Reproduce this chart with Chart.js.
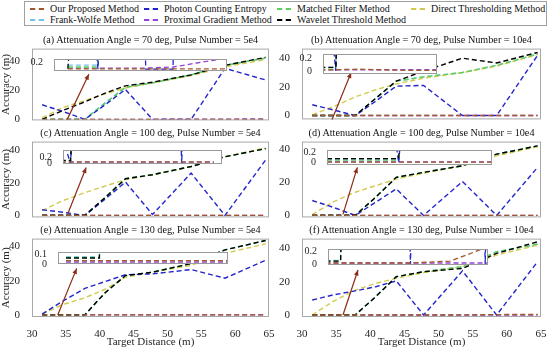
<!DOCTYPE html>
<html>
<head>
<meta charset="utf-8">
<script src="https://cdn.jsdelivr.net/npm/chart.js@4.4.0/dist/chart.umd.min.js"></script>
<style>
body{margin:0;background:#fff;}
#fig{position:relative;width:550px;height:349px;overflow:hidden;background:#fff;font-family:"Liberation Serif",serif;}
#fig canvas{position:absolute;}
.legend{position:absolute;left:24px;top:1px;width:523px;height:25px;border:1px solid #a0a0a0;box-sizing:border-box;background:#fff;}
.item{position:absolute;font-size:10px;line-height:12px;white-space:nowrap;color:#111;}
.item i{position:absolute;left:-20px;top:5px;width:14px;border-top:2px dashed;}
.ttl{position:absolute;font-size:10.2px;line-height:12px;white-space:nowrap;color:#111;transform:translateX(-50%);}
</style>
</head>
<body>
<div id="fig"></div>
<script>
// target distances (m) where each method was measured
const distance = [31.5, 34.5, 37.8, 40.8, 43.8, 47.8, 53.5, 58.5, 64.5];
const xTicks = [30, 35, 40, 45, 50, 55, 60, 65];
const yTicks = [0, 20, 40];

// (a) 70 deg, 5e4
const oursA = [0.01, 0.01, 0.01, 0.01, 0.01, 0.01, 0.01, 0.01, 0.01];
const pceA  = [10, 5.5, 0, 10, 20.5, 0, 0, 35, 27];
const mfA   = [0.06, 0.06, 0.06, 11, 22, 25, 30.5, 37, 42];
const dtA   = [1, 8, 13, 17.5, 21.5, 25, 30, 36, 41];
const fwA   = [0.11, 0.11, 0.11, 11.5, 22, 25, 30.5, 37, 42];
const pgA   = [0.03, 0.03, 0.03, 0.03, 0.03, 0.03, 0.06, 0.17, 0.3];
const wtA   = [0.01, 6, 12, 18, 23, 25.5, 30.5, 37, 42.5];
// (b) 70 deg, 10e4
const oursB = [0.01, 0.01, 0.02, 0.03, 0.02, 0.01, 0.01, 0.01, 0.01];
const pceB  = [7.5, 4, 0, 10, 20.5, 21, 0, 0, 42];
const mfB   = [0.03, 0.03, 0.03, 12, 24, 27, 30, 35, 43];
const dtB   = [0.5, 6, 13, 18, 22, 26, 30, 34.5, 42.5];
const fwB   = [0.06, 0.06, 0.06, 12, 24, 27, 30, 35, 43];
const pgB   = [0.02, 0.02, 0.02, 0.02, 0.02, 0.02, 0.02, 0.02, 0.02];
const wtB   = [0.06, 0.06, 0.06, 12, 24, 31, 40, 36.7, 44];
// (c) 100 deg, 5e4
const oursC = [0.05, 0.05, 0.05, 0.05, 0.05, 0.05, 0.05, 0.05, 0.05];
const pceC  = [3.5, 2, 0, 10, 20.5, 0.6, 26, 0, 34];
const mfC   = [0.05, 0.05, 0.05, 11, 22.5, 25, 30, 36, 41];
const dtC   = [3, 9, 14, 18, 22, 25, 30, 36, 41.5];
const fwC   = [0.08, 0.08, 0.08, 11, 22.5, 25, 30, 36, 41];
const pgC   = [0.04, 0.04, 0.04, 0.04, 0.04, 0.04, 0.04, 0.04, 0.04];
const wtC   = [0.1, 0.1, 0.1, 11, 22.5, 25, 30, 36, 41];
// (d) 100 deg, 10e4
const oursD = [0.013, 0.013, 0.013, 0.013, 0.013, 0.013, 0.013, 0.013, 0.013];
const pceD  = [9, 5, 0, 8, 16, 0, 20.5, 0, 29];
const mfD   = [0.05, 0.05, 0.05, 11, 23, 26, 30, 37, 42];
const dtD   = [0.5, 8, 14, 18, 22, 25.5, 30, 36, 41.5];
const fwD   = [0.06, 0.06, 0.06, 11, 23, 26, 30, 37, 42];
const pgD   = [0.02, 0.02, 0.02, 0.02, 0.02, 0.02, 0.02, 0.02, 0.02];
const wtD   = [0.08, 0.08, 0.08, 11, 23, 26, 30, 37, 42];
// (e) 130 deg, 5e4
const oursE = [0.033, 0.033, 0.033, 0.033, 0.033, 0.033, 0.033, 0.033, 0.033];
const pceE  = [0.5, 8, 15.5, 19.5, 23.5, 24, 26.5, 21.5, 32];
const mfE   = [0.065, 0.065, 0.065, 13, 23, 25, 30, 38, 43.5];
const dtE   = [0.5, 6, 10, 15, 22, 25, 29, 36, 41.5];
const fwE   = [0.07, 0.07, 0.07, 13, 23, 25, 30, 38, 43.5];
const pgE   = [0.02, 0.02, 0.02, 0.02, 0.02, 0.02, 0.02, 0.02, 0.02];
const wtE   = [0.06, 0.06, 0.06, 13, 23, 25, 30, 38, 43.5];
// (f) 130 deg, 10e4
const oursF = [0.02, 0.02, 0.02, 0.02, 0.02, 0.02, 0.05, 0.25, 0.3];
const pceF  = [9, 12, 14.5, 17, 20.5, 0, 26.5, 0, 32];
const mfF   = [0.05, 0.05, 0.05, 11, 23, 26, 29, 38, 42.5];
const dtF   = [0, 8, 15, 19, 22, 25.5, 29, 36, 42];
const fwF   = [0.06, 0.06, 0.06, 11, 23, 26, 29, 38, 42.5];
const pgF   = [0.02, 0.02, 0.02, 0.02, 0.02, 0.02, 0.02, 0.02, 0.02];
const wtF   = [0.05, 0.05, 0.05, 11, 23, 26, 28, 37, 44];

const methods = ['Our Proposed Method', 'Photon Counting Entropy', 'Matched Filter Method',
  'Direct Thresholding Method', 'Frank-Wolfe Method', 'Proximal Gradient Method', 'Wavelet Threshold Method'];
const colors = ['#a3582a', '#2424cc', '#5fd05f', '#d3ca4c', '#6fc4f0', '#9444d4', '#000000'];
const drawOrder = [0, 2, 3, 4, 6, 5, 1];
const titles = [
  '(a) Attenuation Angle = 70 deg, Pulse Number = 5e4',
  '(b) Attenuation Angle = 70 deg, Pulse Number = 10e4',
  '(c) Attenuation Angle = 100 deg, Pulse Number = 5e4',
  '(d) Attenuation Angle = 100 deg, Pulse Number = 10e4',
  '(e) Attenuation Angle = 130 deg, Pulse Number = 5e4',
  '(f) Attenuation Angle = 130 deg, Pulse Number = 10e4'];

// layout of each subplot: axes box, y range, zoom inset box/ranges, arrow (data coords)
const panels = [
  {series:[oursA,pceA,mfA,dtA,fwA,pgA,wtA], box:[32,48,269,123], yr:[-0.7,48.5],
   inset:[54,56,227,74], iy:[-0.05,0.28], iticks:[0.2], ix:[28.6,64.8], arrow:[35.2,0,38.4,31]},
  {series:[oursB,pceB,mfB,dtB,fwB,pgB,wtB], box:[302,48,541,122], yr:[-2.7,46.7],
   inset:[323,51,437,77], iy:[-0.05,0.28], iticks:[0,0.2], ix:[36,52], arrow:[34.4,-2.7,37.2,30]},
  {series:[oursC,pceC,mfC,dtC,fwC,pgC,wtC], box:[32,141,269,220], yr:[-1.2,45.3],
   inset:[63,147,222,167], iy:[-0.03,0.48], iticks:[0,0.2], ix:[36.4,66], arrow:[35.3,1.2,38,29.4]},
  {series:[oursD,pceD,mfD,dtD,fwD,pgD,wtD], box:[302,141,541,220], yr:[-1.2,44.6],
   inset:[327,147,492,168], iy:[-0.04,0.24], iticks:[0,0.2], ix:[31.5,46], arrow:[36,0.6,38.1,29]},
  {series:[oursE,pceE,mfE,dtE,fwE,pgE,wtE], box:[32,238,269,317], yr:[-1.2,44.6],
   inset:[58,249,228,267], iy:[0,0.12], iticks:[0,0.1], ix:[30,62], arrow:[33.8,0,36.6,27.2]},
  {series:[oursF,pceF,mfF,dtF,fwF,pgF,wtF], box:[302,238,541,317], yr:[-1.2,45.9],
   inset:[328,246,488,268], iy:[-0.01,0.233], iticks:[0,0.2], ix:[36,58.9], arrow:[36,0,38.2,27]}
];

Chart.defaults.font.family = '"Liberation Serif", "Times New Roman", serif';
Chart.defaults.font.size = 11;
Chart.defaults.color = '#262626';

const fig = document.getElementById('fig');

function makeCanvas(left, top, w, h){
  const c = document.createElement('canvas');
  c.width = w; c.height = h;
  c.style.left = left + 'px'; c.style.top = top + 'px';
  fig.appendChild(c);
  return c;
}

function buildSets(series, lw){
  return series.map((vals, k) => ({
    label: methods[k],
    data: vals.map((v, i) => ({x: distance[i], y: v})),
    borderColor: colors[k], borderWidth: lw, borderDash: [5, 3],
    pointRadius: 0, fill: false, tension: 0, order: drawOrder[k]
  }));
}

//draws the grey axes box on top of the lines
const boxPlugin = {
  id: 'box',
  afterDatasetsDraw(c){
    const a = c.chartArea, ctx = c.ctx;
    ctx.save();
    ctx.strokeStyle = '#a8a8a8'; ctx.lineWidth = 1;
    ctx.strokeRect(a.left + 0.5, a.top + 0.5, a.right - a.left - 1, a.bottom - a.top - 1);
    ctx.restore();
  }
};

const insetBg = {
  id: 'insetBg',
  beforeDatasetsDraw(c){
    const a = c.chartArea, ctx = c.ctx;
    ctx.save(); ctx.fillStyle = '#fff';
    ctx.fillRect(a.left, a.top, a.right - a.left, a.bottom - a.top);
    ctx.restore();
  },
  afterDatasetsDraw(c){
    const a = c.chartArea, ctx = c.ctx;
    ctx.save(); ctx.strokeStyle = '#9a9a9a'; ctx.lineWidth = 1;
    ctx.strokeRect(a.left + 0.5, a.top + 0.5, a.right - a.left - 1, a.bottom - a.top - 1);
    ctx.restore();
  }
};

function arrowPlugin(ar){
  return {
    id: 'arrow',
    afterDatasetsDraw(c){
      const xs = c.scales.x, ys = c.scales.y, ctx = c.ctx;
      const x1 = xs.getPixelForValue(ar[0]), y1 = ys.getPixelForValue(ar[1]);
      const x2 = xs.getPixelForValue(ar[2]), y2 = ys.getPixelForValue(ar[3]);
      const ang = Math.atan2(y2 - y1, x2 - x1), h = 6;
      ctx.save();
      ctx.strokeStyle = ctx.fillStyle = '#8c2c16'; ctx.lineWidth = 1.2;
      ctx.beginPath(); ctx.moveTo(x1, y1); ctx.lineTo(x2, y2); ctx.stroke();
      ctx.beginPath(); ctx.moveTo(x2, y2);
      ctx.lineTo(x2 - h * Math.cos(ang - 0.4), y2 - h * Math.sin(ang - 0.4));
      ctx.lineTo(x2 - h * Math.cos(ang + 0.4), y2 - h * Math.sin(ang + 0.4));
      ctx.closePath(); ctx.fill();
      ctx.restore();
    }
  };
}

function mainChart(p, idx){
  const col = idx % 2, row = Math.floor(idx / 2);
  const colLeft = col ? 275 : 0, cw = col ? 275 : 282;
  const [L, T, R, B] = p.box;
  const bottom = row === 2;
  const top = T - 10;
  const h = (B - top) + (bottom ? 32 : 8);
  const cv = makeCanvas(colLeft, top, cw, h);
  new Chart(cv, {
    type: 'line',
    data: {datasets: buildSets(p.series, 1.4)},
    options: {
      responsive: false, animation: false, devicePixelRatio: 1,
      layout: {padding: {left: 0, top: 10, right: colLeft + cw - R, bottom: bottom ? 0 : 8}},
      plugins: {legend: {display: false}, tooltip: {enabled: false}},
      scales: {
        x: {type: 'linear', min: 30, max: 65, display: bottom,
          afterBuildTicks(s){ s.ticks = xTicks.map(v => ({value: v})); },
          afterFit(s){ if (bottom) s.height = 32; },
          grid: {display: false}, border: {display: false},
          ticks: {padding: 3, maxRotation: 0, autoSkip: false},
          title: {display: true, text: 'Target Distance (m)', padding: {top: 0, bottom: 0}}},
        y: {min: p.yr[0], max: p.yr[1],
          afterBuildTicks(s){ s.ticks = yTicks.map(v => ({value: v})); },
          afterFit(s){ s.width = L - colLeft; },
          grid: {display: false}, border: {display: false},
          ticks: {padding: 4},
          title: {display: col === 0, text: 'Accuracy (m)', padding: {top: 0, bottom: 0}}}
      }
    },
    plugins: [boxPlugin, arrowPlugin(p.arrow)]
  });
  const t = document.createElement('div');
  t.className = 'ttl';
  t.textContent = titles[idx];
  t.style.left = ((L + R) / 2) + 'px';
  t.style.top = (T - 14) + 'px';
  fig.appendChild(t);
}

function insetChart(p){
  const [L, T, R, B] = p.inset;
  const cv = makeCanvas(L - 24, T - 6, (R - L) + 26, (B - T) + 12);
  new Chart(cv, {
    type: 'line',
    data: {datasets: buildSets(p.series, 1.3)},
    options: {
      responsive: false, animation: false, devicePixelRatio: 1,
      layout: {padding: {left: 0, top: 6, right: 2, bottom: 6}},
      plugins: {legend: {display: false}, tooltip: {enabled: false}},
      scales: {
        x: {type: 'linear', min: p.ix[0], max: p.ix[1], display: false},
        y: {min: p.iy[0], max: p.iy[1],
          afterBuildTicks(s){ s.ticks = p.iticks.map(v => ({value: v})); },
          afterFit(s){ s.width = 24; },
          grid: {display: false}, border: {display: false},
          ticks: {padding: 3, font: {size: 10}}}
      }
    },
    plugins: [insetBg]
  });
}

panels.forEach((p, i) => mainChart(p, i));
panels.forEach(p => insetChart(p));

// legend box (two rows like the matlab legend)
const legend = document.createElement('div');
legend.className = 'legend';
fig.appendChild(legend);
const legendPos = [[25,1],[139,1],[272,1],[406,1],[25,12],[139,12],[272,12]];
methods.forEach((m, k) => {
  const it = document.createElement('div');
  it.className = 'item';
  it.style.left = legendPos[k][0] + 'px';
  it.style.top = legendPos[k][1] + 'px';
  it.innerHTML = '<i style="border-color:' + colors[k] + '"></i>' + m;
  legend.appendChild(it);
});
</script>
</body>
</html>
